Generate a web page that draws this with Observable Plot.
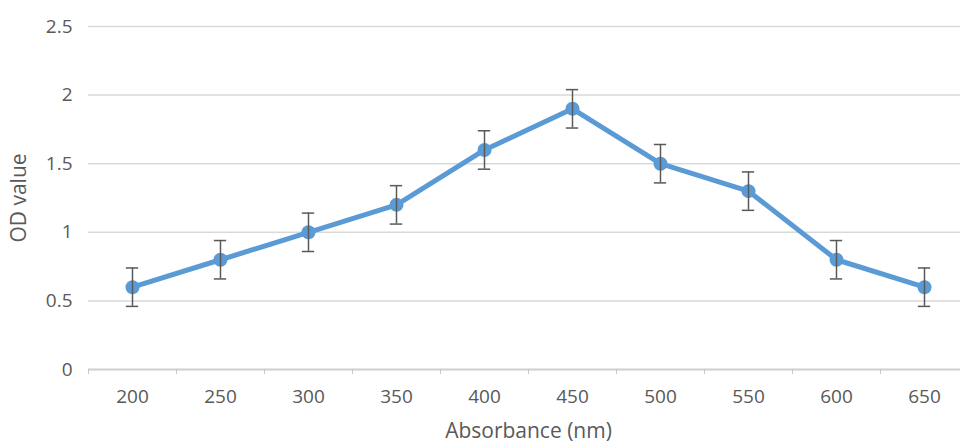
<!DOCTYPE html>
<html>
<head>
<meta charset="utf-8">
<script src="https://cdn.jsdelivr.net/npm/d3@7"></script>
<script src="https://cdn.jsdelivr.net/npm/@observablehq/plot@0.6"></script>
<style>
  html, body { margin: 0; padding: 0; background: #ffffff; }
  #chart svg { display: block; }
</style>
</head>
<body>
<div id="chart"></div>
<script>
const wavelengths = [200, 250, 300, 350, 400, 450, 500, 550, 600, 650];
const odValues    = [0.6, 0.8, 1.0, 1.2, 1.6, 1.9, 1.5, 1.3, 0.8, 0.6];
const errors      = [0.14, 0.14, 0.14, 0.14, 0.14, 0.14, 0.14, 0.14, 0.14, 0.14];
const yTicks      = [0, 0.5, 1, 1.5, 2, 2.5];
const xTitle = "Absorbance (nm)";
const yTitle = "OD value";

const data = wavelengths.map((w, i) => ({w, v: odValues[i], e: errors[i]}));
// category boundaries (Excel-style tick marks between categories)
const step = wavelengths[1] - wavelengths[0];
const boundaries = wavelengths.map(w => w - step / 2).concat([wavelengths[wavelengths.length - 1] + step / 2]);
const capHalf = step * 0.07;

const font = "'Open Sans', sans-serif";
const textColor = "#595959";

const chart = Plot.plot({
  width: 960,
  height: 443,
  marginLeft: 88,
  marginRight: -8,
  marginTop: 26,
  marginBottom: 74,
  style: {fontFamily: font, fontSize: "19px", color: textColor, background: "#ffffff"},
  x: {type: "linear", domain: [boundaries[0], boundaries[boundaries.length - 1]]},
  y: {domain: [0, 2.5]},
  marks: [
    Plot.ruleY(yTicks.filter(t => t > 0), {stroke: "#d9d9d9", strokeWidth: 1.5}),
    Plot.ruleY([0], {stroke: "#d0d0d0", strokeWidth: 2}),
    Plot.axisY(yTicks, {
      tickSize: 0, tickPadding: 16, tickFormat: d => String(d),
      fill: textColor, fontSize: 19, label: null
    }),
    Plot.axisX(boundaries, {tickSize: 5, stroke: "#c8c8c8", tickFormat: () => "", label: null}),
    Plot.axisX(wavelengths, {
      tickSize: 0, tickPadding: 20, tickFormat: d => String(d),
      fill: textColor, fontSize: 19, label: null
    }),
    Plot.text([xTitle], {frameAnchor: "bottom", textAnchor: "middle", lineAnchor: "middle", dy: 62, fontSize: 21, fill: textColor}),
    Plot.text([yTitle], {frameAnchor: "left", textAnchor: "middle", lineAnchor: "middle", rotate: -90, dx: -69, fontSize: 21, fill: textColor}),
    Plot.line(data, {x: "w", y: "v", stroke: "#5b9bd5", strokeWidth: 5, strokeLinejoin: "round"}),
    Plot.dot(data, {x: "w", y: "v", r: 7, fill: "#5b9bd5"}),
    Plot.ruleX(data, {x: "w", y1: d => d.v - d.e, y2: d => d.v + d.e, stroke: "#595959", strokeWidth: 1.5}),
    Plot.ruleY(data, {y: d => d.v + d.e, x1: d => d.w - capHalf, x2: d => d.w + capHalf, stroke: "#595959", strokeWidth: 1.5}),
    Plot.ruleY(data, {y: d => d.v - d.e, x1: d => d.w - capHalf, x2: d => d.w + capHalf, stroke: "#595959", strokeWidth: 1.5})
  ]
});
document.getElementById("chart").appendChild(chart);
</script>
</body>
</html>
